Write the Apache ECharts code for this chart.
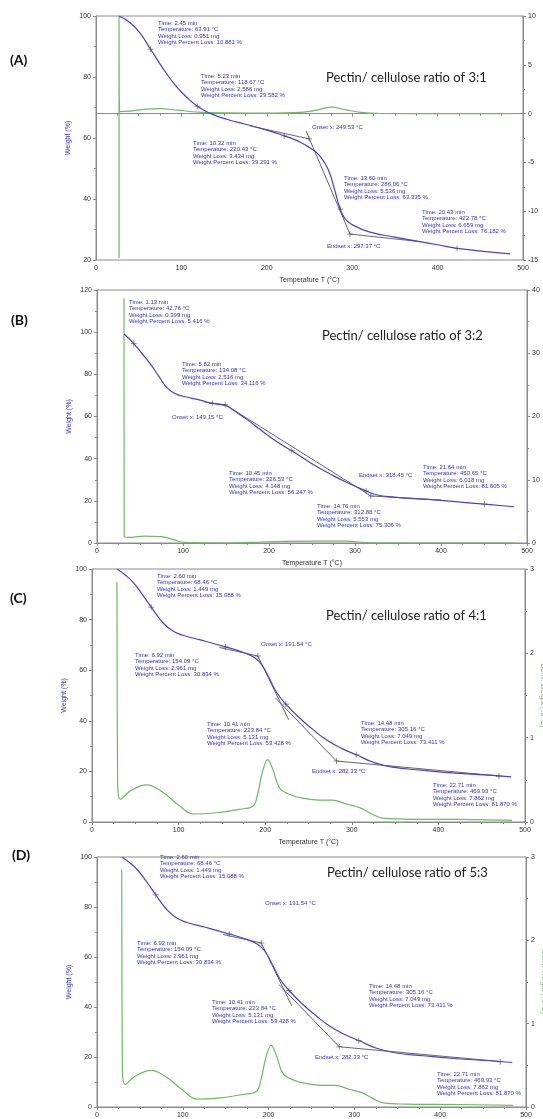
<!DOCTYPE html>
<html>
<head>
<meta charset="utf-8">
<script src="https://cdn.jsdelivr.net/npm/echarts@6/dist/echarts.min.js"></script>
<style>
html, body { margin: 0; padding: 0; background: #fff; }
#tga { width: 543px; height: 1119px; }
</style>
</head>
<body>
<div id="tga"></div>
<script>
// ---- data ----
const panelLabels = ['(A)', '(B)', '(C)', '(D)'];
const panelTitles = [
  'Pectin/ cellulose ratio of 3:1',
  'Pectin/ cellulose ratio of 3:2',
  'Pectin/ cellulose ratio of 4:1',
  'Pectin/ cellulose ratio of 5:3'
];
const xTitle = 'Temperature T (°C)';
const yTitle = 'Weight (%)';
const dTitle = 'Deriv. Weight (%/°C)';

// weight (%) vs temperature (°C)
const weightA = [[27,100],[40,97.8],[52,94.2],[63.91,89.1],[78,83],[92,77.6],[105,73.7],[118.67,70.4],[135,67.9],[155,66],[175,64.5],[200,62.6],[220.43,60.7],[238,58.8],[252,56.5],[263,53.8],[272,49.6],[279,43.5],[286.06,36.66],[292,33.4],[300,31.6],[320,29.2],[350,27.5],[400,25],[422.78,23.8],[485,22]];
const weightB = [[31.4,99.1],[42.76,94.6],[52,90],[61.6,85.2],[72,79],[81,73.8],[90,71],[100,69.6],[120,67.8],[134.08,66.2],[150,65.1],[160,62.6],[175,58.4],[190,53.7],[210,47.8],[226.53,43.75],[250,37.6],[270,33],[290,28.8],[312.88,24.7],[325,22.9],[345,21.8],[380,20.8],[420,19.5],[450.65,18.4],[485,17.2]];
const weightC = [[28.8,100],[37,98],[47,94.9],[58,90],[68.46,84.9],[80,79.5],[92,75.8],[105,73.8],[125,72],[154.09,69.2],[175,67],[186,65.3],[195,62.6],[204,57.3],[213,51.3],[223.84,46.6],[240,41],[255,36.6],[271,32.4],[290,28.8],[305.16,26.6],[325,23.6],[347,21.7],[380,20.5],[420,19.3],[469.93,18.2],[484,17.8]];
const weightD = weightC;

// derivative weight vs temperature
const derivA = [[27,-14.8],[27,10],[27.6,0.2],[40,0.25],[58,0.45],[75,0.5],[95,0.35],[120,0.15],[150,0.08],[200,0.05],[240,0.12],[258,0.35],[275,0.67],[292,0.4],[310,0.12],[330,0.02],[400,0],[487,0]];
const derivB = [[31.4,38.7],[31.6,1.0],[40,0.9],[55,1.1],[75,1.0],[90,0.5],[100,0.1],[150,0],[200,0.2],[250,0.3],[290,0.3],[320,0.02],[400,0],[485,0]];
const derivC = [[28.8,2.85],[29.6,0.45],[33,0.27],[43,0.36],[63,0.44],[82,0.35],[100,0.2],[117,0.095],[144,0.11],[170,0.15],[186,0.19],[191,0.32],[197,0.6],[203,0.74],[209,0.62],[217,0.4],[230,0.32],[245,0.28],[262,0.26],[277,0.26],[295,0.21],[309,0.17],[322,0.1],[334,0.05],[360,0.035],[420,0.03],[485,0.02]];
const derivD = derivC;

// tangent construction lines (onset / endset)
const tangentsA = [[[180,64],[249.53,59.7]],[[246,62.3],[297.37,28.5]],[[297.37,28.5],[380,26]]];
const tangentsB = [[[125,66.8],[149.15,65.6]],[[149.15,65.6],[318.45,22.3]],[[318.45,22.3],[400,20.4]]];
const tangentsC = [[[147,69],[191.54,65.6]],[[191.54,65.6],[227,40.5]],[[212,49],[282.33,24.1]],[[282.33,24.1],[470,18.2]]];
const tangentsD = tangentsC;

// marked points on the weight curve
const marksA = [[63.91,89.1],[118.67,70.4],[220.43,60.7],[249.53,59.7],[286.06,36.66],[297.37,28.5],[422.78,23.8]];
const marksB = [[42.76,94.6],[134.08,66.2],[149.15,65.6],[226.53,43.75],[312.88,24.7],[318.45,22.3],[450.65,18.4]];
const marksC = [[68.46,84.9],[154.09,69.2],[191.54,65.6],[223.84,46.6],[282.33,24.1],[305.16,26.6],[469.93,18.1]];
const marksD = marksC;

// annotation texts
const notesA = [
  'Time: 2.45 min\nTemperature: 63.91 °C\nWeight Loss: 0.951 mg\nWeight Percent Loss: 10.881 %',
  'Time: 5.23 min\nTemperature: 118.67 °C\nWeight Loss: 2.586 mg\nWeight Percent Loss: 29.582 %',
  'Time: 10.32 min\nTemperature: 220.43 °C\nWeight Loss: 3.434 mg\nWeight Percent Loss: 39.291 %',
  'Onset x: 249.53 °C',
  'Time: 13.60 min\nTemperature: 286.06 °C\nWeight Loss: 5.536 mg\nWeight Percent Loss: 63.335 %',
  'Time: 20.43 min\nTemperature: 422.78 °C\nWeight Loss: 6.659 mg\nWeight Percent Loss: 76.182 %',
  'Endset x: 297.37 °C'
];
const notesB = [
  'Time: 1.13 min\nTemperature: 42.76 °C\nWeight Loss: 0.399 mg\nWeight Percent Loss: 5.416 %',
  'Time: 5.82 min\nTemperature: 134.08 °C\nWeight Loss: 2.516 mg\nWeight Percent Loss: 34.116 %',
  'Onset x: 149.15 °C',
  'Time: 10.45 min\nTemperature: 226.53 °C\nWeight Loss: 4.148 mg\nWeight Percent Loss: 56.247 %',
  'Endset x: 318.45 °C',
  'Time: 14.76 min\nTemperature: 312.88 °C\nWeight Loss: 5.553 mg\nWeight Percent Loss: 75.306 %',
  'Time: 21.64 min\nTemperature: 450.65 °C\nWeight Loss: 6.018 mg\nWeight Percent Loss: 81.605 %'
];
const notesC = [
  'Time: 2.60 min\nTemperature: 68.46 °C\nWeight Loss: 1.449 mg\nWeight Percent Loss: 15.088 %',
  'Time: 6.92 min\nTemperature: 154.09 °C\nWeight Loss: 2.961 mg\nWeight Percent Loss: 30.834 %',
  'Onset x: 191.54 °C',
  'Time: 10.41 min\nTemperature: 223.84 °C\nWeight Loss: 5.131 mg\nWeight Percent Loss: 53.428 %',
  'Time: 14.48 min\nTemperature: 305.16 °C\nWeight Loss: 7.049 mg\nWeight Percent Loss: 73.411 %',
  'Endset x: 282.33 °C',
  'Time: 22.71 min\nTemperature: 469.93 °C\nWeight Loss: 7.862 mg\nWeight Percent Loss: 81.870 %'
];
const notesD = notesC;

// ---- layout (pixels) ----
const panels = [
  { weight: weightA, deriv: derivA, tangents: tangentsA, marks: marksA, notes: notesA,
    grid: { left: 96, top: 16, width: 427, height: 244 }, y: [20, 100, 20], d: [-15, 10, 5],
    label: [10, 53], title: [326, 71], showX: true, showD: false,
    notePos: [[158,20],[201,73],[193,140],[312,124],[344,175],[422,209],[327,243]] },
  { weight: weightB, deriv: derivB, tangents: tangentsB, marks: marksB, notes: notesB,
    grid: { left: 97, top: 290, width: 430, height: 253 }, y: [0, 120, 20], d: [0, 40, 10],
    label: [11, 313], title: [322, 329], showX: true, showD: false,
    notePos: [[129,299],[182,361],[172,414],[229,470],[359,472],[317,503],[423,464]] },
  { weight: weightC, deriv: derivC, tangents: tangentsC, marks: marksC, notes: notesC,
    grid: { left: 92, top: 569, width: 433, height: 253 }, y: [0, 100, 20], d: [0, 3, 1],
    label: [10, 591], title: [326, 609], showX: true, showD: true,
    notePos: [[157,573],[135,652],[261,641],[207,721],[361,720],[312,768],[433,782]] },
  { weight: weightD, deriv: derivD, tangents: tangentsD, marks: marksD, notes: notesD,
    grid: { left: 97, top: 857, width: 429, height: 250 }, y: [0, 100, 20], d: [0, 3, 1],
    label: [12, 848], title: [327, 866], showX: false, showD: true,
    notePos: [[160,854],[137,940],[265,900],[212,999],[369,983],[315,1054],[437,1071]] }
];

const BLUE = '#4343cf';
const NOTE = '#3333c4';
const GREEN = '#6fb865';
const AXIS = '#8a8a8a';
const tickFont = { fontFamily: 'Liberation Sans', fontSize: 7, color: '#333' };

let chart = echarts.init(document.getElementById('tga'));

let grids = [], xAxes = [], yAxes = [], series = [], graphics = [];

panels.forEach(function (p, i) {
  grids.push(Object.assign({ show: true, borderColor: AXIS, borderWidth: 1, outerBoundsMode: 'none', containLabel: false }, p.grid));
  xAxes.push({
    type: 'value', gridIndex: i, min: 0, max: 500, interval: 100,
    name: p.showX ? xTitle : '', nameLocation: 'middle', nameGap: 17, nameMoveOverlap: false,
    nameTextStyle: { fontFamily: 'Liberation Sans', fontSize: 7, color: '#333' },
    axisLine: { lineStyle: { color: AXIS } },
    axisTick: { length: 3, lineStyle: { color: AXIS } },
    minorTick: { show: true, splitNumber: 4, length: 2, lineStyle: { color: AXIS } },
    axisLabel: Object.assign({ margin: 5 }, tickFont),
    splitLine: { show: false }
  });
  yAxes.push({
    type: 'value', gridIndex: i, min: p.y[0], max: p.y[1], interval: p.y[2],
    name: yTitle, nameLocation: 'middle', nameGap: 24, nameMoveOverlap: false,
    nameTextStyle: { fontFamily: 'Liberation Sans', fontSize: 7, color: NOTE },
    axisLine: { show: true, lineStyle: { color: AXIS } },
    axisTick: { show: true, length: 3, lineStyle: { color: AXIS } },
    minorTick: { show: true, splitNumber: 2, length: 2, lineStyle: { color: AXIS } },
    axisLabel: Object.assign({ margin: 5 }, tickFont),
    splitLine: { show: false }
  });
  yAxes.push({
    type: 'value', gridIndex: i, position: 'right', min: p.d[0], max: p.d[1], interval: p.d[2],
    name: p.showD ? dTitle : '', nameLocation: 'middle', nameGap: 14, nameRotate: -90, nameMoveOverlap: false,
    nameTextStyle: { fontFamily: 'Liberation Sans', fontSize: 7, color: GREEN },
    axisLine: { show: true, lineStyle: { color: AXIS } },
    axisTick: { show: true, length: 3, lineStyle: { color: AXIS } },
    minorTick: { show: true, splitNumber: 2, length: 2, lineStyle: { color: AXIS } },
    axisLabel: Object.assign({ margin: 5 }, tickFont),
    splitLine: { show: false }
  });

  series.push({
    type: 'line', name: 'deriv' + i, xAxisIndex: i, yAxisIndex: 2 * i + 1,
    data: p.deriv, showSymbol: false, smooth: 0.4,
    lineStyle: { color: GREEN, width: 1.2 }, z: 2, silent: true
  });
  series.push({
    type: 'lines', name: 'tangent' + i, coordinateSystem: 'cartesian2d',
    xAxisIndex: i, yAxisIndex: 2 * i,
    data: p.tangents.map(function (c) { return { coords: c }; }),
    lineStyle: { color: '#555', width: 0.9, opacity: 1 }, z: 3, silent: true
  });
  series.push({
    type: 'line', name: 'weight' + i, xAxisIndex: i, yAxisIndex: 2 * i,
    data: p.weight, showSymbol: false, smooth: 0.5,
    lineStyle: { color: BLUE, width: 1.2 }, z: 4, silent: true
  });
  series.push({
    type: 'scatter', name: 'marks' + i, xAxisIndex: i, yAxisIndex: 2 * i,
    data: p.marks, symbol: 'path://M0,4H8M4,0V8', symbolSize: 6,
    itemStyle: { color: 'none', borderColor: '#555', borderWidth: 0.8 }, z: 5, silent: true
  });

  graphics.push({
    type: 'text', left: p.label[0], top: p.label[1],
    style: { text: panelLabels[i], fontFamily: 'Lato', fontWeight: 'bold', fontSize: 14, fill: '#111' }
  });
  graphics.push({
    type: 'text', left: p.title[0], top: p.title[1],
    style: { text: panelTitles[i], fontFamily: 'Lato', fontSize: 13, fill: '#222' }
  });
  p.notes.forEach(function (t, k) {
    graphics.push({
      type: 'text', left: p.notePos[k][0], top: p.notePos[k][1],
      style: { text: t, fontFamily: 'Liberation Sans', fontSize: 6, lineHeight: 6.4, fill: NOTE }
    });
  });
});

chart.setOption({
  animation: false,
  backgroundColor: '#fff',
  grid: grids,
  xAxis: xAxes,
  yAxis: yAxes,
  series: series,
  graphic: graphics
});
</script>
</body>
</html>
